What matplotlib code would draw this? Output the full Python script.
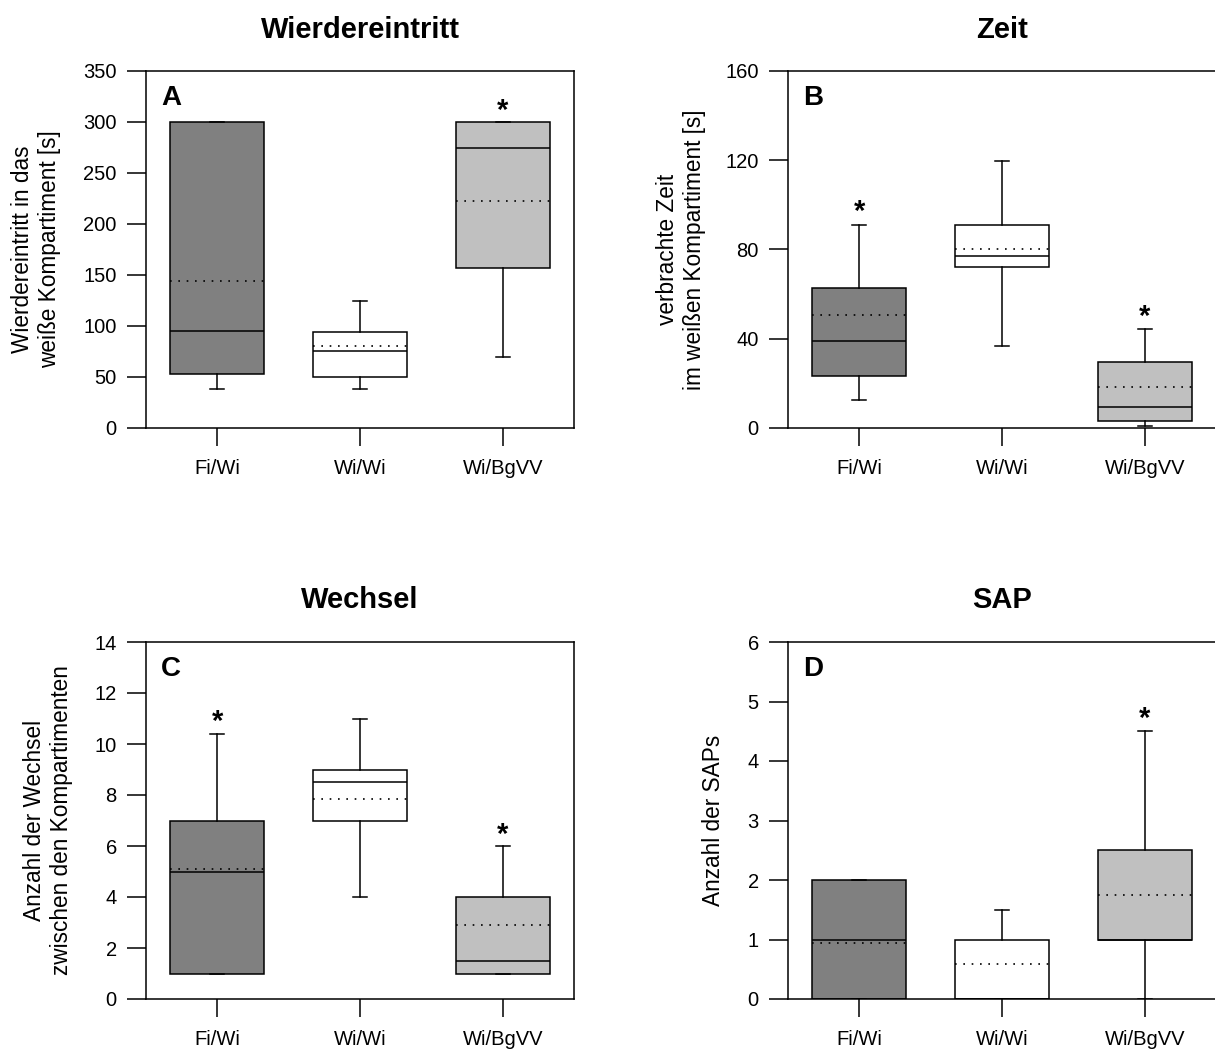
import matplotlib
matplotlib.use("Agg")
import matplotlib.pyplot as plt

plt.rcParams['font.family'] = ['Liberation Sans', 'DejaVu Sans']

groups = ["Fi/Wi", "Wi/Wi", "Wi/BgVV"]
colors = ["#808080", "#ffffff", "#c0c0c0"]

# Panel A: Wiedereintritt [s]
a_whislo = [38.5, 38, 70]
a_q1 = [53, 50, 157]
a_med = [95, 75, 274.5]
a_q3 = [300, 94.5, 300]
a_whishi = [300, 124.5, 300]
a_mean = [143.8, 80.7, 223]
a_stars = {2: 319}

# Panel B: verbrachte Zeit [s]
b_whislo = [12.4, 36.6, 0.9]
b_q1 = [23.2, 72, 3.1]
b_med = [39, 77.1, 9.4]
b_q3 = [62.9, 91, 29.4]
b_whishi = [91, 119.7, 44.2]
b_mean = [50.8, 80.4, 18.5]
b_stars = {0: 100.7, 2: 53.6}

# Panel C: Wechsel
c_whislo = [1, 4, 1]
c_q1 = [1, 7, 1]
c_med = [5, 8.5, 1.5]
c_q3 = [7, 9, 4]
c_whishi = [10.4, 11, 6]
c_mean = [5.1, 7.85, 2.9]
c_stars = {0: 11.2, 2: 6.76}

# Panel D: SAP
d_whislo = [0, 0, 0]
d_q1 = [0, 0, 1]
d_med = [1, 0, 1]
d_q3 = [2, 1, 2.5]
d_whishi = [2, 1.5, 4.5]
d_mean = [0.94, 0.59, 1.75]
d_stars = {2: 4.86}

panels = [
    dict(title="Wierdereintritt", letter="A",
         ylabel="Wierdereintritt in das\nweiße Kompartiment [s]",
         lo=a_whislo, q1=a_q1, med=a_med, q3=a_q3, hi=a_whishi, mean=a_mean,
         stars=a_stars, ylim=(0, 350), yticks=[0, 50, 100, 150, 200, 250, 300, 350],
         rect=[146, 71, 428, 357], ylab_x=36, title_y=30),
    dict(title="Zeit", letter="B",
         ylabel="verbrachte Zeit\nim weißen Kompartiment [s]",
         lo=b_whislo, q1=b_q1, med=b_med, q3=b_q3, hi=b_whishi, mean=b_mean,
         stars=b_stars, ylim=(0, 160), yticks=[0, 40, 80, 120, 160],
         rect=[788, 71, 428, 357], ylab_x=681, title_y=30),
    dict(title="Wechsel", letter="C",
         ylabel="Anzahl der Wechsel\nzwischen den Kompartimenten",
         lo=c_whislo, q1=c_q1, med=c_med, q3=c_q3, hi=c_whishi, mean=c_mean,
         stars=c_stars, ylim=(0, 14), yticks=[0, 2, 4, 6, 8, 10, 12, 14],
         rect=[146, 642, 428, 357], ylab_x=48, title_y=600),
    dict(title="SAP", letter="D",
         ylabel="Anzahl der SAPs",
         lo=d_whislo, q1=d_q1, med=d_med, q3=d_q3, hi=d_whishi, mean=d_mean,
         stars=d_stars, ylim=(0, 6), yticks=[0, 1, 2, 3, 4, 5, 6],
         rect=[788, 642, 428, 357], ylab_x=714, title_y=600),
]

W, H = 1215, 1050
fig = plt.figure(figsize=(W / 100, H / 100), dpi=100)

lw = 1.1
for p in panels:
    x0, y0, w, h = p["rect"]
    ax = fig.add_axes([x0 / W, 1 - (y0 + h) / H, w / W, h / H])
    stats = []
    for i in range(3):
        stats.append(dict(whislo=p["lo"][i], q1=p["q1"][i], med=p["med"][i],
                          q3=p["q3"][i], whishi=p["hi"][i], mean=p["mean"][i],
                          fliers=[]))
    bp = ax.bxp(stats, positions=[1, 2, 3], widths=0.66, capwidths=0.1,
                patch_artist=True, showmeans=True, meanline=True,
                showfliers=False,
                boxprops=dict(linewidth=lw, edgecolor="black"),
                medianprops=dict(color="black", linewidth=lw),
                meanprops=dict(color="black", linewidth=1.2, linestyle=(0, (1, 4))),
                whiskerprops=dict(color="black", linewidth=lw),
                capprops=dict(color="black", linewidth=lw))
    for patch, c in zip(bp["boxes"], colors):
        patch.set_facecolor(c)
    ax.set_xlim(0.5, 3.5)
    ax.set_ylim(*p["ylim"])
    ax.set_yticks(p["yticks"])
    ax.set_xticks([1, 2, 3])
    ax.set_xticklabels(groups)
    for s in ax.spines.values():
        s.set_linewidth(lw)
    ax.tick_params(axis="y", direction="out", length=14, width=lw, labelsize=14.5, pad=7)
    ax.tick_params(axis="x", direction="out", length=13, width=lw, labelsize=14.5, pad=9)
    # panel letter
    ax.text(15 / w, 1 - 14 / h, p["letter"], transform=ax.transAxes,
            fontsize=20, fontweight="bold", ha="left", va="top")
    # stars
    for idx, val in p["stars"].items():
        ax.annotate("*", xy=(idx + 1, val), xytext=(0, -12), textcoords="offset points",
                    ha="center", va="baseline", fontsize=21, fontweight="bold")
    # title
    fig.text((x0 + w / 2) / W, 1 - p["title_y"] / H, p["title"],
             ha="center", va="center", fontsize=21, fontweight="bold")
    fig.text(p["ylab_x"] / W, 1 - (y0 + h / 2) / H, p["ylabel"], rotation=90,
             ha="center", va="center", multialignment="center", fontsize=16.3)

fig.savefig("out.png", dpi=100)
